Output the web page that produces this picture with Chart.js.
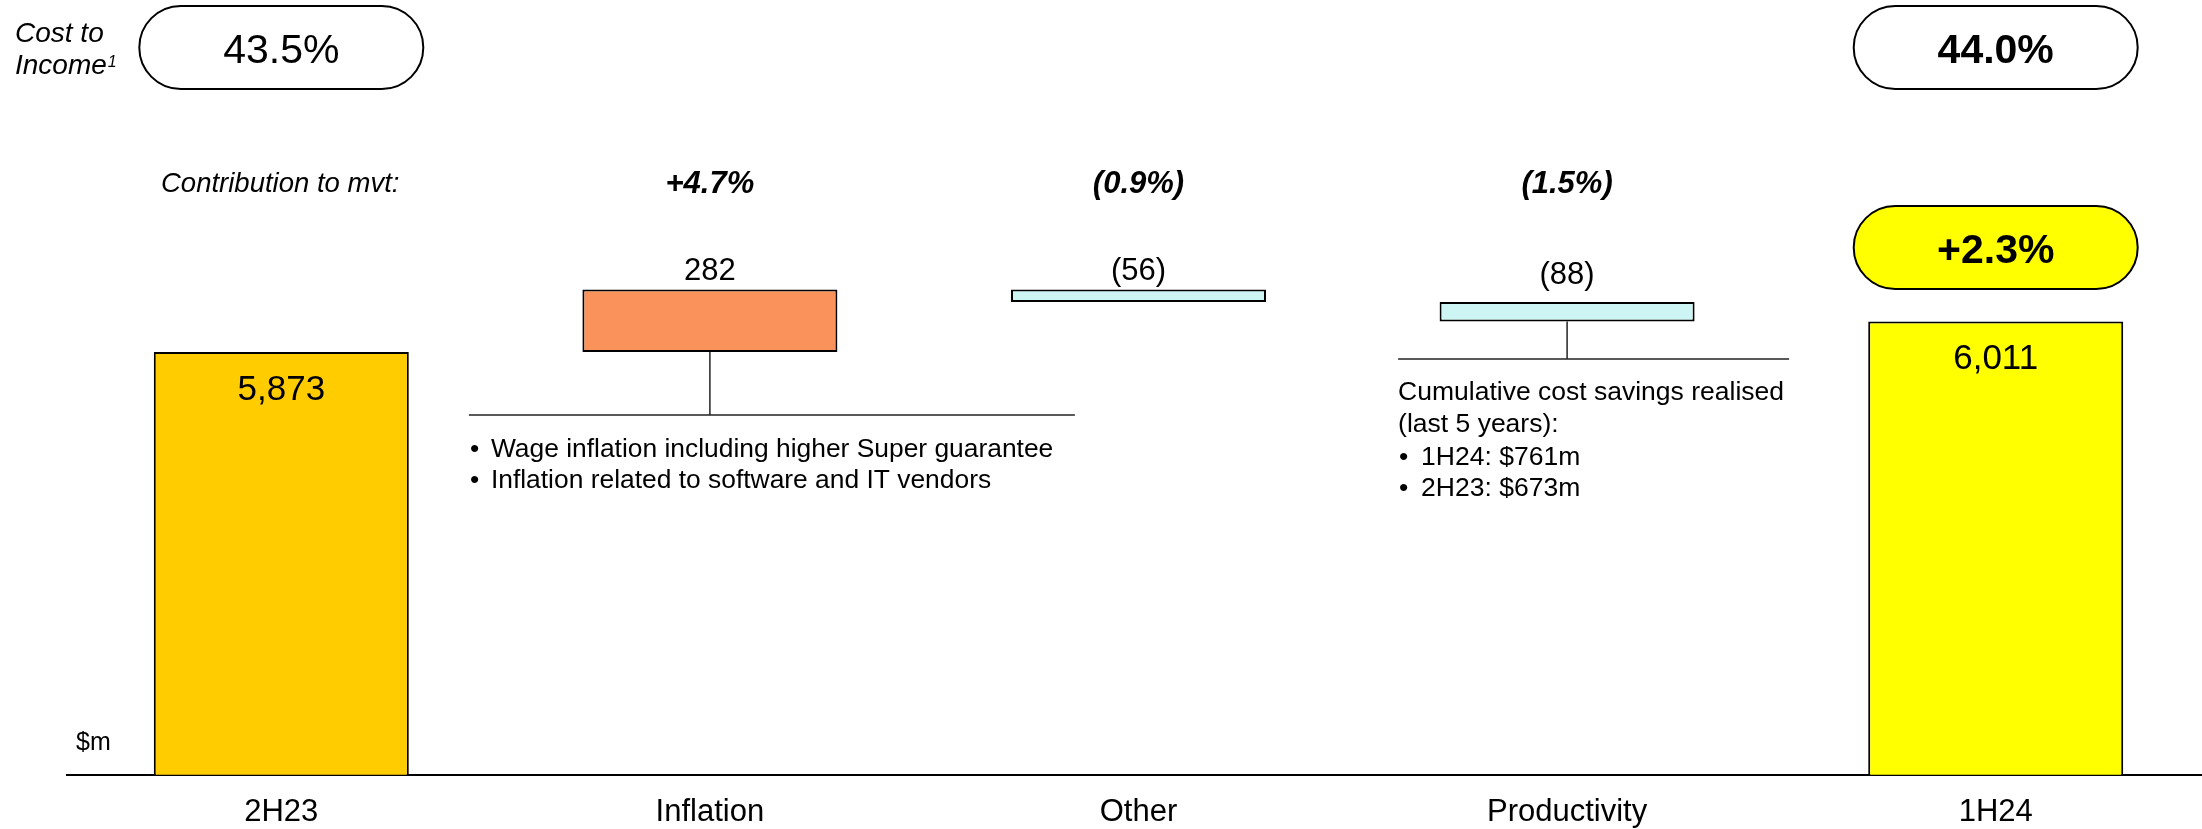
<!DOCTYPE html>
<html>
<head>
<meta charset="utf-8">
<script src="https://cdn.jsdelivr.net/npm/chart.js@4.4.1/dist/chart.umd.min.js"></script>
<style>
  html, body { margin: 0; padding: 0; background: #fff; overflow: hidden; }
  #wrap { position: relative; width: 2202px; height: 829px; overflow: hidden; }
  canvas { position: absolute; left: 0; top: 0; }
</style>
</head>
<body>
<div id="wrap"><canvas id="costChart" width="2212" height="850"></canvas></div>
<script>
'use strict';

// ============================================================
// DATA
// ============================================================
const categories = ['2H23', 'Inflation', 'Other', 'Productivity', '1H24'];
const startValue = 5873;            // 2H23 expenses, $m
const deltas = [282, -56, -88];     // Inflation, Other, Productivity
const endValue = 6011;              // 1H24 expenses, $m
const contribution = ['', '+4.7%', '(0.9%)', '(1.5%)', ''];
const costToIncome = ['43.5%', '44.0%'];
const totalChange = '+2.3%';
const inflationNotes = ['Wage inflation including higher Super guarantee', 'Inflation related to software and IT vendors'];
const productivityIntro = ['Cumulative cost savings realised', '(last 5 years):'];
const productivityNotes = ['1H24: $761m', '2H23: $673m'];

const barColors = ['#FFCC00', '#F9935B', '#CCF5F3', '#CCF5F3', '#FFFF00'];
const FONT = '"Liberation Sans", Arial, Helvetica, sans-serif';

// waterfall: totals from axis, steps floating
let run = startValue;
const barData = [startValue];
deltas.forEach(d => { barData.push([run, run + d]); run += d; });
barData.push(endValue);

const fmt = v => v < 0 ? `(${Math.abs(v).toLocaleString('en-US')})` : v.toLocaleString('en-US');

// text drawn by its cap-height centre
function txt(ctx, s, x, y, size, style, align) {
  ctx.font = `${style || ''} ${size}px ${FONT}`;
  ctx.textAlign = align || 'center';
  ctx.textBaseline = 'alphabetic';
  ctx.fillStyle = '#000';
  ctx.fillText(s, x, y + size * 0.358);
}

function pill(ctx, cx, y, w, h, fill) {
  ctx.beginPath();
  ctx.roundRect(cx - w / 2, y, w, h, h / 2);
  if (fill) { ctx.fillStyle = fill; ctx.fill(); }
  ctx.lineWidth = 2;
  ctx.strokeStyle = '#000';
  ctx.stroke();
}

function line(ctx, x1, y1, x2, y2) {
  ctx.beginPath();
  ctx.moveTo(x1, y1); ctx.lineTo(x2, y2);
  ctx.lineWidth = 1.5;
  ctx.strokeStyle = '#222';
  ctx.stroke();
}

const annotations = {
  id: 'annotations',
  afterDraw(chart) {
    const ctx = chart.ctx;
    const bars = chart.getDatasetMeta(0).data;
    const top = i => Math.min(bars[i].y, bars[i].base);
    const bot = i => Math.max(bars[i].y, bars[i].base);
    ctx.save();

    // cost to income row
    txt(ctx, 'Cost to', 15, 32, 28, 'italic', 'left');
    txt(ctx, 'Income', 15, 64, 28, 'italic', 'left');
    ctx.font = `italic 28px ${FONT}`;
    const iw = ctx.measureText('Income').width;
    txt(ctx, '1', 15 + iw + 1, 61, 16, 'italic', 'left');
    pill(ctx, bars[0].x, 6, 284, 83);
    pill(ctx, bars[4].x, 6, 284, 83);
    txt(ctx, costToIncome[0], bars[0].x, 48, 41, '');
    txt(ctx, costToIncome[1], bars[4].x, 48, 41, 'bold');

    // contribution row
    txt(ctx, 'Contribution to mvt:', 161, 182, 27.5, 'italic', 'left');
    contribution.forEach((c, i) => { if (c) txt(ctx, c, bars[i].x, 182, 31, 'italic bold'); });
    pill(ctx, bars[4].x, 206, 284, 83, '#FFFF00');
    txt(ctx, totalChange, bars[4].x, 248, 41, 'bold');

    // value labels
    const deltaOffset = [0, 21, 21, 29, 0];
    deltas.forEach((d, k) => {
      const i = k + 1;
      txt(ctx, fmt(d), bars[i].x, top(i) - deltaOffset[i], 31, '');
    });
    txt(ctx, fmt(startValue), bars[0].x, top(0) + 35, 35, '');
    txt(ctx, fmt(endValue), bars[4].x, top(4) + 35, 35, '');

    // inflation callout
    const xi = bars[1].x;
    line(ctx, xi, bot(1), xi, 415);
    line(ctx, xi - 241, 415, xi + 365, 415);
    inflationNotes.forEach((s, k) => {
      txt(ctx, '•', xi - 240, 448 + k * 31, 26.4, '', 'left');
      txt(ctx, s, xi - 219, 448 + k * 31, 26.4, '', 'left');
    });

    // productivity callout
    const xp = bars[3].x;
    line(ctx, xp, bot(3), xp, 359);
    line(ctx, xp - 169, 359, xp + 222, 359);
    productivityIntro.forEach((s, k) => txt(ctx, s, xp - 169, 391 + k * 32, 26.5, '', 'left'));
    productivityNotes.forEach((s, k) => {
      txt(ctx, '•', xp - 168, 456 + k * 31, 26.5, '', 'left');
      txt(ctx, s, xp - 146, 456 + k * 31, 26.5, '', 'left');
    });

    // unit
    txt(ctx, '$m', 76, 741, 25, '', 'left');
    ctx.restore();
  }
};

new Chart(document.getElementById('costChart').getContext('2d'), {
  type: 'bar',
  data: {
    labels: categories,
    datasets: [{
      data: barData,
      backgroundColor: barColors,
      borderColor: '#000',
      borderWidth: 2,
      borderSkipped: false,
      barPercentage: 0.595,
      categoryPercentage: 1
    }]
  },
  options: {
    responsive: false,
    animation: false,
    devicePixelRatio: 1,
    layout: { padding: { left: 67, right: 2, top: 100, bottom: 0 } },
    plugins: { legend: { display: false }, tooltip: { enabled: false } },
    scales: {
      x: {
        grid: { display: false, drawTicks: false },
        border: { display: true, color: '#000', width: 2 },
        ticks: { color: '#000', padding: 19, font: { family: FONT, size: 31 } }
      },
      y: { display: false, min: 3970, max: 7008 }
    }
  },
  plugins: [annotations]
});
</script>
</body>
</html>
